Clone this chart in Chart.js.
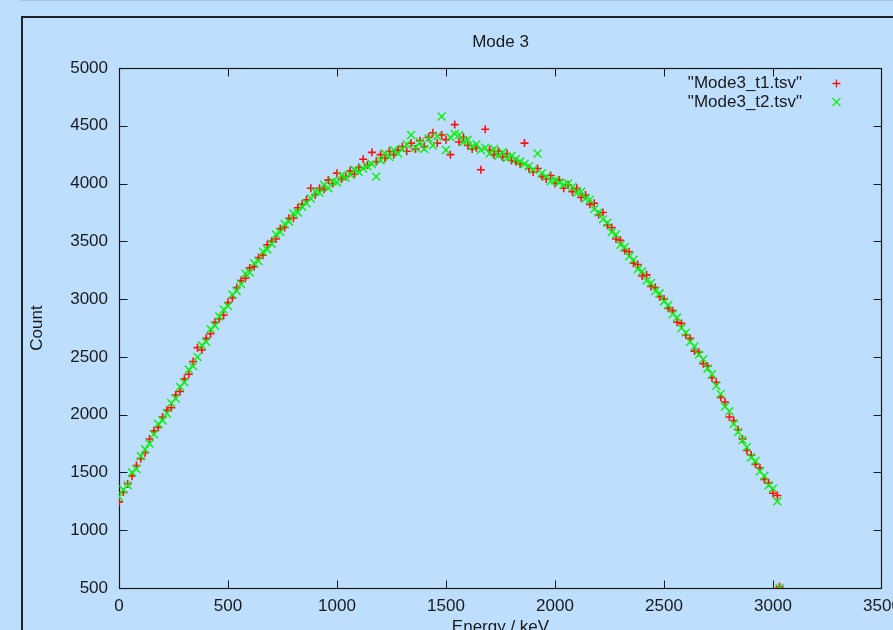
<!DOCTYPE html>
<html lang="en">
  <head>
    <meta charset="UTF-8" />
    <title>Mode 3</title>
    <script src="https://cdn.jsdelivr.net/npm/chart.js"></script>
    <style>
      html,
      body {
        margin: 0;
        width: 893px;
        height: 630px;
        overflow: hidden;
        background: #bedefe;
      }
      #modeChart {
        position: absolute;
        left: 0;
        top: 0;
      }
    </style>
  </head>
  <body>
    <canvas id="modeChart" width="960" height="680"></canvas>

    <script>
      // Energy bins (keV) shared by both files
      const energies = [
        0, 20, 40, 60, 80, 100, 120, 140, 160, 180,
        200, 220, 240, 260, 280, 300, 320, 340, 360, 380,
        400, 420, 440, 460, 480, 500, 520, 540, 560, 580,
        600, 620, 640, 660, 680, 700, 720, 740, 760, 780,
        800, 820, 840, 860, 880, 900, 920, 940, 960, 980,
        1000, 1020, 1040, 1060, 1080, 1100, 1120, 1140, 1160, 1180,
        1200, 1220, 1240, 1260, 1280, 1300, 1320, 1340, 1360, 1380,
        1400, 1420, 1440, 1460, 1480, 1500, 1520, 1540, 1560, 1580,
        1600, 1620, 1640, 1660, 1680, 1700, 1720, 1740, 1760, 1780,
        1800, 1820, 1840, 1860, 1880, 1900, 1920, 1940, 1960, 1980,
        2000, 2020, 2040, 2060, 2080, 2100, 2120, 2140, 2160, 2180,
        2200, 2220, 2240, 2260, 2280, 2300, 2320, 2340, 2360, 2380,
        2400, 2420, 2440, 2460, 2480, 2500, 2520, 2540, 2560, 2580,
        2600, 2620, 2640, 2660, 2680, 2700, 2720, 2740, 2760, 2780,
        2800, 2820, 2840, 2860, 2880, 2900, 2920, 2940, 2960, 2980,
        3000, 3020, 3030,
      ];

      // Counts from "Mode3_t1.tsv"
      const countsT1 = [
        1245, 1330, 1400, 1470, 1560, 1620, 1670, 1790, 1860, 1890,
        1980, 2040, 2060, 2170, 2200, 2310, 2350, 2460, 2580, 2560,
        2660, 2700, 2800, 2830, 2860, 2970, 3010, 3100, 3160, 3180,
        3270, 3280, 3360, 3380, 3470, 3500, 3520, 3610, 3620, 3700,
        3700, 3790, 3820, 3860, 3960, 3900, 3960, 3950, 4030, 4000,
        4090, 4040, 4060, 4110, 4080, 4140, 4210, 4160, 4270, 4190,
        4250, 4220, 4280, 4250, 4290, 4320, 4280, 4350, 4300, 4370,
        4320, 4400, 4440, 4350, 4420, 4380, 4250, 4510, 4360, 4400,
        4330, 4300, 4310, 4120, 4470, 4290, 4250, 4280, 4230, 4260,
        4200, 4190, 4170, 4350, 4130, 4100, 4130, 4060, 4040, 4070,
        4000, 4030, 3960, 3990, 3930, 3960, 3880, 3900, 3820, 3830,
        3730, 3750, 3640, 3620, 3520, 3510, 3420, 3410, 3310, 3300,
        3200, 3210, 3110, 3100, 3020, 3000, 2920, 2900, 2800, 2790,
        2690, 2660, 2550, 2540, 2440, 2420, 2320, 2280, 2150, 2110,
        1980, 1950, 1870, 1790, 1690, 1650, 1570, 1540, 1440, 1410,
        1320, 1300, 510,
      ];

      // Counts from "Mode3_t2.tsv"
      const countsT2 = [
        1290, 1350, 1390, 1500, 1530, 1640, 1700, 1750, 1830, 1920,
        1950, 2010, 2100, 2140, 2240, 2280, 2390, 2420, 2500, 2600,
        2630, 2740, 2770, 2850, 2910, 2940, 3040, 3070, 3130, 3220,
        3230, 3310, 3330, 3410, 3430, 3480, 3560, 3580, 3650, 3670,
        3740, 3750, 3800, 3830, 3870, 3930, 3920, 3990, 3960, 4020,
        4010, 4070, 4050, 4080, 4120, 4100, 4130, 4150, 4170, 4060,
        4200, 4260, 4230, 4290, 4260, 4300, 4340, 4420, 4310, 4360,
        4300, 4390, 4330, 4410, 4580, 4290, 4400, 4430, 4420, 4360,
        4380, 4320, 4340, 4290, 4310, 4260, 4300, 4240, 4270, 4220,
        4240, 4210, 4190, 4170, 4150, 4120, 4260, 4090, 4060, 4020,
        4030, 4010, 3990, 4000, 3970, 3920, 3930, 3870, 3860, 3780,
        3750, 3690, 3660, 3580, 3560, 3470, 3450, 3370, 3340, 3260,
        3240, 3160, 3140, 3070, 3050, 2980, 2950, 2870, 2840, 2750,
        2710, 2630, 2590, 2520, 2480, 2400, 2350, 2250, 2180, 2070,
        2030, 1920, 1850, 1780, 1720, 1630, 1600, 1510, 1470, 1390,
        1360, 1250, 500,
      ];

      const seriesLabels = ['"Mode3_t1.tsv"', '"Mode3_t2.tsv"'];
      const chartTitle = "Mode 3";

      const FONT = "'Liberation Sans', Arial, sans-serif";
      const INK = "#1a1a1a";

      // gnuplot-like frame, title, inward ticks and legend
      const gnuplotLook = {
        id: "gnuplotLook",
        beforeDraw(chart) {
          const ctx = chart.ctx;
          ctx.save();
          // thin line along the very top
          ctx.strokeStyle = "#a6c5e6";
          ctx.lineWidth = 1;
          ctx.beginPath();
          ctx.moveTo(20, 0.5);
          ctx.lineTo(chart.width, 0.5);
          ctx.stroke();
          // outer window frame
          ctx.strokeStyle = "#222";
          ctx.lineWidth = 2;
          ctx.strokeRect(22, 17, chart.width + 50, chart.height + 50);
          ctx.restore();
        },
        beforeDatasetsDraw(chart) {
          const ctx = chart.ctx;
          const a = chart.chartArea;
          const xs = chart.scales.x;
          const ys = chart.scales.y;
          const L = a.left + 0.5,
            R = a.right - 0.5,
            T = a.top + 0.5,
            B = a.bottom + 0.5;
          ctx.save();
          ctx.strokeStyle = INK;
          ctx.lineWidth = 1.2;
          ctx.strokeRect(L, T, R - L, B - T);
          ctx.lineWidth = 1;
          ctx.beginPath();
          xs.ticks.forEach((t) => {
            const px = Math.round(xs.getPixelForValue(t.value)) + 0.5;
            if (px <= L + 1 || px >= R - 1) return;
            ctx.moveTo(px, B);
            ctx.lineTo(px, B - 8);
            ctx.moveTo(px, T);
            ctx.lineTo(px, T + 8);
          });
          ys.ticks.forEach((t) => {
            const py = Math.round(ys.getPixelForValue(t.value)) + 0.5;
            if (py <= T + 1 || py >= B - 1) return;
            ctx.moveTo(L, py);
            ctx.lineTo(L + 8, py);
            ctx.moveTo(R, py);
            ctx.lineTo(R - 8, py);
          });
          ctx.stroke();

          // title
          ctx.fillStyle = INK;
          ctx.font = "17px " + FONT;
          ctx.textAlign = "center";
          ctx.textBaseline = "middle";
          ctx.fillText(chartTitle, (a.left + a.right) / 2, 42);
          ctx.restore();
        },
        afterDatasetsDraw(chart) {
          const ctx = chart.ctx;
          const textX = 802;
          const markX = 836.5;
          ctx.save();
          ctx.font = "17px " + FONT;
          ctx.textAlign = "right";
          ctx.textBaseline = "middle";
          chart.data.datasets.forEach((ds, i) => {
            const y = 83.5 + i * 18.5;
            ctx.fillStyle = INK;
            ctx.fillText(ds.label, textX, y);
            ctx.strokeStyle = ds.borderColor;
            ctx.lineWidth = 1.3;
            Chart.helpers.drawPoint(
              ctx,
              {
                pointStyle: ds.pointStyle,
                radius: ds.pointRadius,
                rotation: 0,
                borderWidth: 1.3,
              },
              markX,
              y
            );
          });
          ctx.restore();
        },
      };

      const toPoints = (ys) => energies.map((e, i) => ({ x: e, y: ys[i] }));
      const plainNumber = (v) => String(v);

      var ctx = document.getElementById("modeChart").getContext("2d");
      var modeChart = new Chart(ctx, {
        type: "scatter",
        data: {
          datasets: [
            {
              label: seriesLabels[0],
              data: toPoints(countsT1),
              pointStyle: "cross",
              pointRadius: 4,
              pointBorderWidth: 1.6,
              borderColor: "#ff1010",
              backgroundColor: "#ff1010",
              order: 1,
            },
            {
              label: seriesLabels[1],
              data: toPoints(countsT2),
              pointStyle: "crossRot",
              pointRadius: 5.6,
              pointBorderWidth: 1.5,
              borderColor: "#10f010",
              backgroundColor: "#10f010",
              order: 0,
            },
          ],
        },
        options: {
          responsive: false,
          maintainAspectRatio: false,
          animation: false,
          layout: {
            padding: { left: 0, top: 68, right: 78, bottom: 0 },
          },
          plugins: {
            legend: { display: false },
            tooltip: { enabled: false },
          },
          scales: {
            x: {
              type: "linear",
              min: 0,
              max: 3500,
              grid: { display: false, drawTicks: false },
              border: { display: false },
              ticks: {
                stepSize: 500,
                padding: 8,
                maxRotation: 0,
                color: INK,
                callback: plainNumber,
                font: { family: FONT, size: 17 },
              },
              title: {
                display: true,
                text: "Energy / keV",
                color: INK,
                padding: { top: 42, bottom: 42 },
                font: { family: FONT, size: 17 },
              },
              afterFit: (scale) => {
                scale.height = 92;
              },
            },
            y: {
              min: 500,
              max: 5000,
              grid: { display: false, drawTicks: false },
              border: { display: false },
              ticks: {
                stepSize: 500,
                padding: 11,
                color: INK,
                callback: plainNumber,
                font: { family: FONT, size: 17 },
              },
              title: {
                display: true,
                text: "Count",
                color: INK,
                padding: { top: 27, bottom: 27 },
                font: { family: FONT, size: 17 },
              },
              afterFit: (scale) => {
                scale.width = 119;
              },
            },
          },
        },
        plugins: [gnuplotLook],
      });
    </script>
  </body>
</html>
